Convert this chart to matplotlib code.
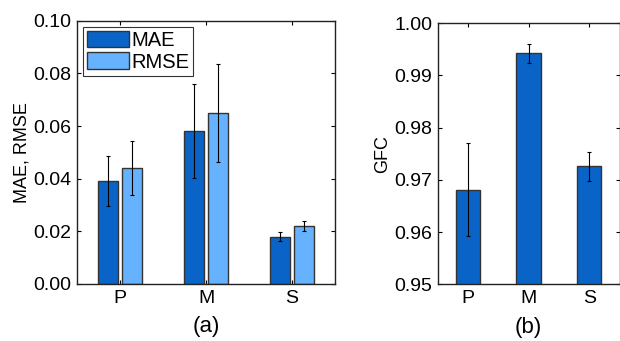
import matplotlib
matplotlib.use("Agg")
import matplotlib.pyplot as plt
import numpy as np
from matplotlib.patches import Patch

plt.rcParams['font.family'] = ['Liberation Sans', 'DejaVu Sans']

categories = ['P', 'M', 'S']
mae = [0.039, 0.058, 0.018]
mae_err = [0.0095, 0.0178, 0.0016]
rmse = [0.044, 0.065, 0.022]
rmse_err = [0.0103, 0.0187, 0.0020]
gfc = [0.9681, 0.9942, 0.9726]
gfc_err = [0.0089, 0.0018, 0.0028]
left_yticks = [0.00, 0.02, 0.04, 0.06, 0.08, 0.10]
right_yticks = [0.95, 0.96, 0.97, 0.98, 0.99, 1.00]

c_mae = '#0A64C8'
c_rmse = '#66B2FF'
edge = '#333333'

W, H = 620, 341
fig = plt.figure(figsize=(W/100, H/100), dpi=100)
ax1 = fig.add_axes([77/W, 1-284/H, (335-77)/W, (284-20.7)/H])
ax2 = fig.add_axes([437.7/W, 1-284.3/H, (619.5-437.7)/W, (284.3-23)/H])

x = np.arange(1, len(categories)+1)
bw = 0.233
off = 0.14
ekw = dict(ecolor='black', elinewidth=0.8, capsize=1.5, capthick=0.8)
ax1.bar(x-off, mae, bw, color=c_mae, edgecolor=edge, linewidth=1.0, zorder=2)
ax1.bar(x+off, rmse, bw, color=c_rmse, edgecolor=edge, linewidth=1.0, zorder=2)
ax1.errorbar(x-off, mae, yerr=mae_err, fmt='none', zorder=3, **ekw)
ax1.errorbar(x+off, rmse, yerr=rmse_err, fmt='none', zorder=3, **ekw)
ax1.set_xlim(0.5, 3.5)
ax1.set_ylim(0, 0.10)
ax1.set_yticks(left_yticks)
ax1.set_yticklabels([f'{v:.2f}' for v in left_yticks])
ax1.set_xticks(x)
ax1.set_xticklabels(categories)
ax1.set_ylabel('MAE, RMSE', fontsize=13, labelpad=2)
ax1.set_xlabel('(a)', fontsize=16, labelpad=7)
leg = ax1.legend(handles=[Patch(facecolor=c_mae, edgecolor=edge, label='MAE'),
                          Patch(facecolor=c_rmse, edgecolor=edge, label='RMSE')],
                 loc='upper left', fontsize=14.5, frameon=True, fancybox=False,
                 edgecolor='black', handlelength=2.1, handleheight=0.9,
                 handletextpad=0.1, borderpad=0.2, labelspacing=0.12,
                 borderaxespad=0.3)
leg.get_frame().set_linewidth(0.8)

ax2.bar(x, gfc, 0.4, color=c_mae, edgecolor=edge, linewidth=1.0, zorder=2)
ax2.errorbar(x, gfc, yerr=gfc_err, fmt='none', zorder=3, **ekw)
ax2.set_xlim(0.5, 3.5)
ax2.set_ylim(0.95, 1.00)
ax2.set_yticks(right_yticks)
ax2.set_yticklabels([f'{v:.2f}' for v in right_yticks])
ax2.set_xticks(x)
ax2.set_xticklabels(categories)
ax2.set_ylabel('GFC', fontsize=13, labelpad=2)
ax2.set_xlabel('(b)', fontsize=16, labelpad=7)

for ax in (ax1, ax2):
    ax.tick_params(direction='in', length=3, width=0.8, labelsize=14,
                   top=True, right=True, pad=4)
    for s in ax.spines.values():
        s.set_linewidth(1.0)
        s.set_color('#222222')

fig.savefig('out.png', dpi=100)
